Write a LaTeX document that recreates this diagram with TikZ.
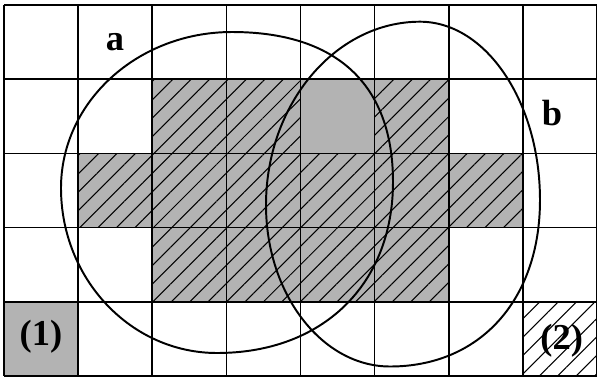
\documentclass[tikz,border=0pt]{standalone}
\usepackage{fontspec}
\setmainfont{Liberation Serif}
\usetikzlibrary{patterns.meta}
\definecolor{cellgray}{RGB}{179,179,179}
\tikzset{
  graycell/.style={fill=cellgray},
  hatchcell/.style={pattern={Lines[angle=45,distance=5pt,line width=0.4pt]},pattern color=black},
  gridline/.style={line width=0.6pt,black},
  setline/.style={line width=0.75pt,black},
  lbl/.style={font=\fontsize{14}{16}\selectfont\bfseries,inner sep=0pt}
}
\begin{document}
\begin{tikzpicture}[x=0.01349cm,y=-0.01349cm]
\useasboundingbox (0,0) rectangle (597,381);
% gray cells
\foreach \i/\j in {2/1,3/1,4/1,5/1,1/2,2/2,3/2,4/2,5/2,6/2,2/3,3/3,4/3,5/3,0/4}
  \fill[graycell] ({4+74.125*\i},{5+74.2*\j}) rectangle ++(74.125,74.2);
% hatched cells
\foreach \i/\j in {2/1,3/1,5/1,1/2,2/2,3/2,4/2,5/2,6/2,2/3,3/3,4/3,5/3,7/4}
  \fill[hatchcell] ({4+74.125*\i},{5+74.2*\j}) rectangle ++(74.125,74.2);
% grid
\foreach \i in {0,...,8}
  \draw[gridline] ({4+74.125*\i},5) -- ({4+74.125*\i},376);
\foreach \j in {0,...,5}
  \draw[gridline] (4,{5+74.2*\j}) -- (597,{5+74.2*\j});
% set a
\coordinate (aT) at (232,32);
\coordinate (aR) at (393,182);
\coordinate (aB) at (217,353);
\coordinate (aL) at (61,188);
\draw[setline] (aT) .. controls (336.7,32) and (393,84.5) .. (aR)
  .. controls (393,284.6) and (322.6,353) .. (aB)
  .. controls (130.9,353) and (61,279) .. (aL)
  .. controls (61,101.9) and (137.6,32) .. (aT) -- cycle;
% set b
\coordinate (bT) at (420,21.7);
\coordinate (bR) at (540,200);
\coordinate (bB) at (390,366.5);
\coordinate (bL) at (266,205);
\draw[setline] (bT) .. controls (486,21.7) and (540,102.1) .. (bR)
  .. controls (540,299.9) and (480,366.5) .. (bB)
  .. controls (321.8,366.5) and (266,293.8) .. (bL)
  .. controls (266,104.2) and (335.3,21.7) .. (bT) -- cycle;
% labels
\node[lbl] (la) at (115,42) {a};
\node[lbl] (lb) at (552,113.5) {b};
\node[lbl] (l1) at (41,337) {(1)};
\node[lbl] (l2) at (561.7,341) {(2)};
\end{tikzpicture}
\end{document}
